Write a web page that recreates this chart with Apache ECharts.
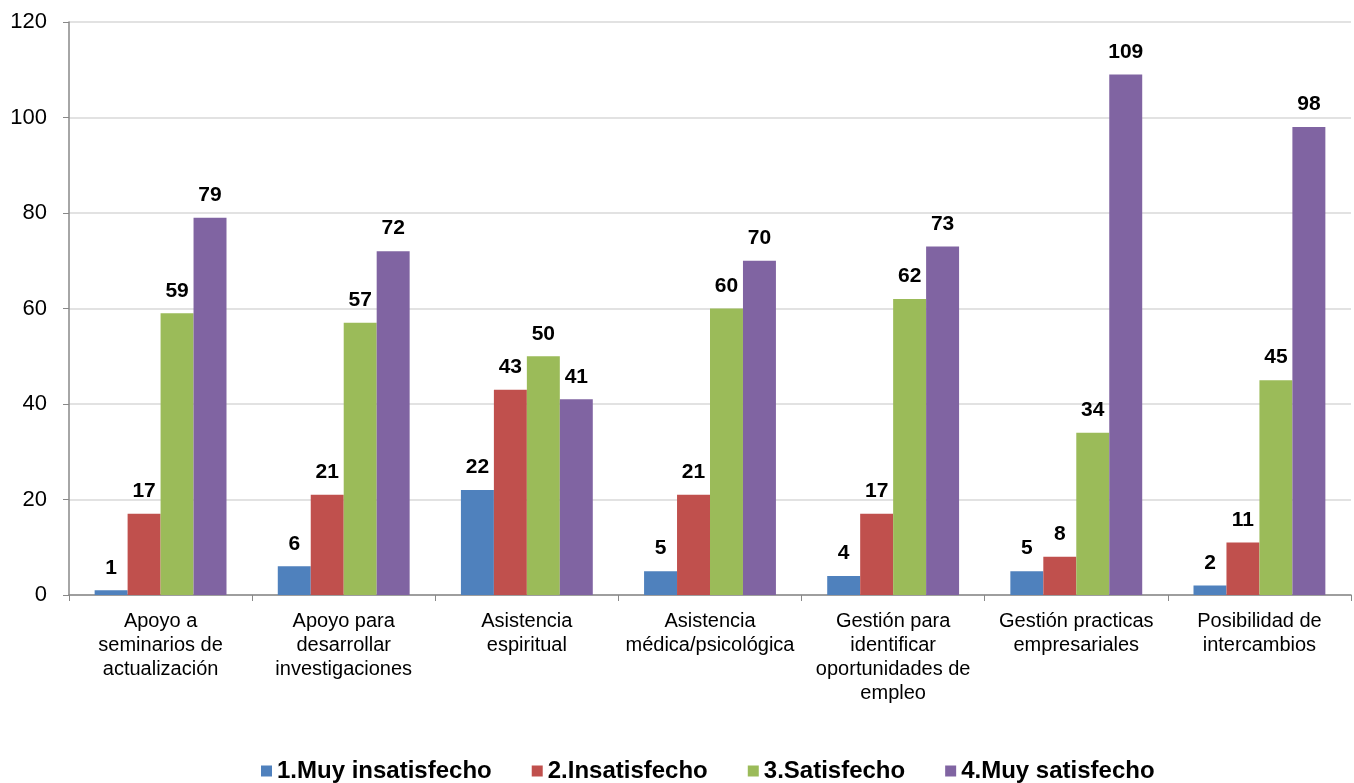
<!DOCTYPE html>
<html><head><meta charset="utf-8">
<script src="https://cdn.jsdelivr.net/npm/echarts@6/dist/echarts.min.js"></script>
<style>html,body{margin:0;padding:0;background:#fff}#c{width:1354px;height:783px}</style>
</head><body><div id="c"></div>
<script>
const categories = ["Apoyo a\nseminarios de\nactualización","Apoyo para\ndesarrollar\ninvestigaciones","Asistencia\nespiritual","Asistencia\nmédica/psicológica","Gestión para\nidentificar\noportunidades de\nempleo","Gestión practicas\nempresariales","Posibilidad de\nintercambios"];
const seriesNames = ["1.Muy insatisfecho","2.Insatisfecho","3.Satisfecho","4.Muy satisfecho"];
const muyInsatisfecho = [1,6,22,5,4,5,2];
const insatisfecho = [17,21,43,21,17,8,11];
const satisfecho = [59,57,50,60,62,34,45];
const muySatisfecho = [79,72,41,70,73,109,98];
const yTicks = {min:0,max:120,interval:20};
const colors = ["#4F81BD","#C0504D","#9BBB59","#8064A2"];
const data = [muyInsatisfecho, insatisfecho, satisfecho, muySatisfecho];
const font = "'Liberation Sans', Arial, sans-serif";
const chart = echarts.init(document.getElementById('c'), null, {renderer:'canvas'});
chart.setOption({
  animation:false,
  color:colors,
  grid:{left:69,right:3,top:22,bottom:188,containLabel:false},
  legend:{top:754,left:256,itemWidth:11,itemHeight:11,itemGap:40,icon:'rect',
    textStyle:{fontFamily:font,fontSize:24,fontWeight:'bold',color:'#000'},data:seriesNames},
  xAxis:{type:'category',data:categories,
    axisLine:{lineStyle:{color:'#888',width:1.5}},
    axisTick:{show:true,alignWithLabel:false,length:6,lineStyle:{color:'#888'}},
    axisLabel:{fontFamily:font,fontSize:20,color:'#000',lineHeight:24,margin:14,interval:0}},
  yAxis:{type:'value',min:yTicks.min,max:yTicks.max,interval:yTicks.interval,
    axisLine:{show:true,lineStyle:{color:'#888',width:1.5}},
    axisTick:{show:true,length:6,lineStyle:{color:'#888'}},
    splitLine:{lineStyle:{color:'#D9D9D9',width:1.5}},
    axisLabel:{fontFamily:font,fontSize:22,color:'#000',margin:22}},
  series:seriesNames.map((n,i)=>({name:n,type:'bar',data:data[i],barGap:'0%',barCategoryGap:'28%',
    label:{show:true,position:'top',distance:12,fontFamily:font,fontSize:21,fontWeight:'bold',color:'#000'}}))
});
</script></body></html>
